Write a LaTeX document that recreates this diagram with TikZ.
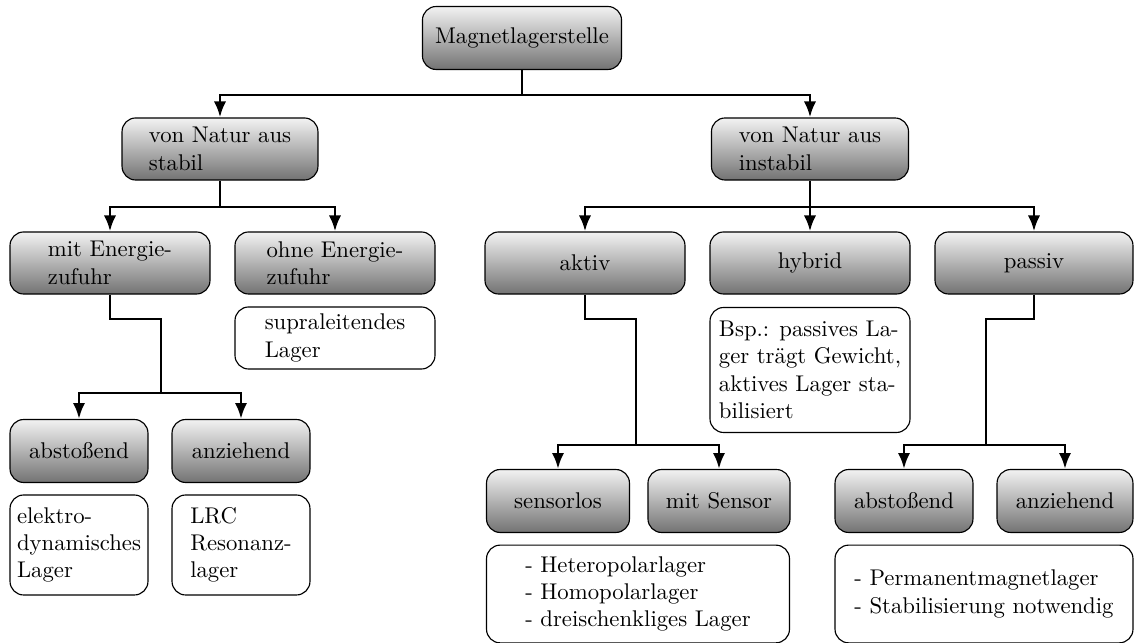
\documentclass[tikz,border=0pt]{standalone}
\usepackage{fontspec}
\usetikzlibrary{arrows.meta}
\begin{document}
\begin{tikzpicture}[x=0.44pt,y=-0.44pt,
  cat/.style={draw=black, line width=0.5pt, rounded corners=6pt, top color=black!5, bottom color=black!55, align=left, inner sep=0pt},
  note/.style={draw=black, line width=0.5pt, rounded corners=6pt, fill=white, align=left, inner sep=0pt},
  conn/.style={line width=1.25pt, -{Latex[length=7pt,width=5.4pt]}},
  line/.style={line width=1.25pt}]
\useasboundingbox (0,0) rectangle (1134,643);
% top
\node[cat, minimum width=87.6pt, minimum height=27.7pt] (top) at (522,38) {Magnetlagerstelle};
% level 2
\node[cat, minimum width=86.2pt, minimum height=27.3pt] (stabil) at (220,149) {von Natur aus\\stabil};
\node[cat, minimum width=86.7pt, minimum height=27.3pt] (instabil) at (810,149) {von Natur aus\\instabil};
% level 3
\node[cat, minimum width=88pt, minimum height=27.3pt] (mit) at (110,263) {mit Energie-\\zufuhr};
\node[cat, minimum width=88pt, minimum height=27.3pt] (ohne) at (335,263) {ohne Energie-\\zufuhr};
\node[note, minimum width=88pt, minimum height=27.3pt] (supra) at (335,338) {supraleitendes\\Lager};
\node[cat, minimum width=88pt, minimum height=27.3pt] (aktiv) at (585,263) {aktiv};
\node[cat, minimum width=88pt, minimum height=27.3pt] (hybrid) at (810,263) {hybrid};
\node[cat, minimum width=87.1pt, minimum height=27.3pt] (passiv) at (1034,263) {passiv};
\node[note, minimum width=88pt, minimum height=55pt] (bsp) at (810,370) {Bsp.: passives La-\\ger trägt Gewicht,\\aktives Lager sta-\\bilisiert};
% level 4 left
\node[cat, minimum width=60.7pt, minimum height=27.7pt] (abstL) at (79,451) {abstoßend};
\node[cat, minimum width=60.7pt, minimum height=27.7pt] (anzL) at (241,451) {anziehend};
\node[note, minimum width=60.7pt, minimum height=44pt] (elektro) at (79,545) {elektro-\\dynamisches\\Lager};
\node[note, minimum width=60.7pt, minimum height=44pt] (lrc) at (241,545) {LRC\\Resonanz-\\lager};
% level 4 right
\node[cat, minimum width=62.9pt, minimum height=27.7pt] (sensorlos) at (558,501) {sensorlos};
\node[cat, minimum width=62.5pt, minimum height=27.7pt] (sensor) at (719,501) {mit Sensor};
\node[note, minimum width=133.3pt, minimum height=43pt] (hetero) at (638,594) {- Heteropolarlager\\- Homopolarlager\\- dreischenkliges Lager};
\node[cat, minimum width=60.7pt, minimum height=27.7pt] (abstR) at (904,501) {abstoßend};
\node[cat, minimum width=59.8pt, minimum height=27.7pt] (anzR) at (1065,501) {anziehend};
\node[note, minimum width=131.1pt, minimum height=43pt] (perm) at (984,594) {- Permanentmagnetlager\\- Stabilisierung notwendig};
% junctions
\coordinate (j1) at (522,95);
\coordinate (j2) at (220,207);
\coordinate (j3) at (810,207);
\coordinate (k1) at (110,319);
\coordinate (k2) at (161,319);
\coordinate (j4) at (161,393);
\coordinate (a1) at (585,319);
\coordinate (a2) at (636,319);
\coordinate (j5) at (636,445);
\coordinate (p1) at (1034,319);
\coordinate (p2) at (986,319);
\coordinate (j6) at (986,445);
% connectors
\draw[line] (top.south) -- (j1);
\draw[conn] (j1) -| (stabil.north);
\draw[conn] (j1) -| (instabil.north);
\draw[line] (stabil.south) -- (j2);
\draw[conn] (j2) -| (mit.north);
\draw[conn] (j2) -| (ohne.north);
\draw[line] (instabil.south) -- (j3);
\draw[conn] (j3) -| (aktiv.north);
\draw[conn] (j3) -- (hybrid.north);
\draw[conn] (j3) -| (passiv.north);
\draw[line] (mit.south) -- (k1) -- (k2) -- (j4);
\draw[conn] (j4) -| (abstL.north);
\draw[conn] (j4) -| (anzL.north);
\draw[line] (aktiv.south) -- (a1) -- (a2) -- (j5);
\draw[conn] (j5) -| (sensorlos.north);
\draw[conn] (j5) -| (sensor.north);
\draw[line] (passiv.south) -- (p1) -- (p2) -- (j6);
\draw[conn] (j6) -| (abstR.north);
\draw[conn] (j6) -| (anzR.north);
\end{tikzpicture}
\end{document}
